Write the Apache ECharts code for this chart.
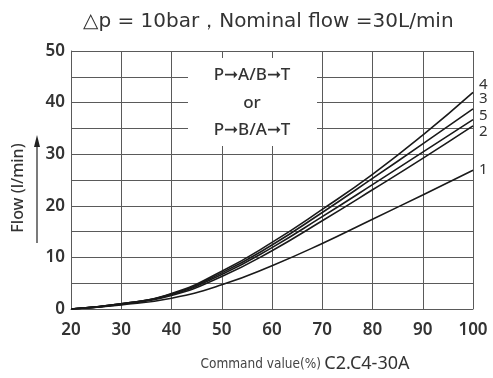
<!DOCTYPE html>
<html>
<head>
<meta charset="utf-8">
<script src="https://cdn.jsdelivr.net/npm/echarts@6/dist/echarts.min.js"></script>
<style>
  html, body { margin: 0; padding: 0; background: #fff; }
  #chart { width: 493px; height: 378px; }
</style>
</head>
<body>
<div id="chart"></div>
<script>
const commandValues = [20, 30, 40, 50, 60, 70, 80, 90, 100];
const curveNames = ['4', '3', '5', '2', '1'];
const curve4 = [0, 1.0, 3.0, 7.3, 12.9, 19.3, 26.1, 33.7, 42.0];
const curve3 = [0, 1.0, 2.9, 7.0, 12.4, 18.7, 25.3, 32.0, 38.8];
const curve5 = [0, 1.0, 2.8, 6.7, 11.9, 17.9, 24.1, 30.4, 36.7];
const curve2 = [0, 0.9, 2.6, 6.3, 11.3, 17.1, 23.1, 29.2, 35.5];
const curve1 = [0, 0.8, 2.1, 4.7, 8.4, 12.7, 17.4, 22.1, 26.9];
const curveValues = [curve4, curve3, curve5, curve2, curve1];
// where each number sits next to the line end
const labelOffsets = [[0, -8], [0, -10], [0, -4], [0, 6], [0, 0]];

const font = '"Noto Sans", "Open Sans", sans-serif';
const ink = '#333';
const gridColor = '#5a5a5a';

const chart = echarts.init(document.getElementById('chart'));

const series = curveNames.map((name, i) => ({
  name,
  type: 'line',
  smooth: 0.5,
  symbol: 'none',
  lineStyle: { color: '#1a1a1a', width: 1.6 },
  data: commandValues.map((x, j) => [x, curveValues[i][j]]),
  endLabel: {
    show: true,
    formatter: name,
    color: ink,
    fontFamily: font,
    fontSize: 15,
    distance: 6,
    offset: labelOffsets[i],
  },
  z: 3,
}));

chart.setOption({
  backgroundColor: '#fff',
  animation: false,
  title: {
    text: '△p = 10bar，Nominal flow =30L/min',
    left: 78,
    top: 7,
    textStyle: { color: ink, fontFamily: '"DejaVu Sans", sans-serif', fontSize: 20, fontWeight: 500 },
  },
  grid: { left: 71, right: 20, top: 51, bottom: 68 },
  xAxis: {
    type: 'value',
    min: 20,
    max: 100,
    interval: 10,
    name: '{a|Command value(%)} {b|C2.C4-30A}',
    nameLocation: 'middle',
    nameGap: 46,
    nameTextStyle: {
      rich: {
        a: { fontFamily: '"DejaVu Sans Condensed", "Liberation Sans Narrow", sans-serif', fontSize: 13.5, color: '#444', padding: [0, 0, 0, 66] },
        b: { fontFamily: font, fontSize: 18, color: ink },
      },
    },
    axisLine: { show: true, lineStyle: { color: gridColor, width: 1 } },
    axisTick: { show: false },
    axisLabel: { color: ink, fontFamily: font, fontSize: 17, fontWeight: 600, margin: 13 },
    splitLine: { show: true, lineStyle: { color: gridColor, width: 1 } },
  },
  yAxis: {
    type: 'value',
    min: 0,
    max: 50,
    interval: 5,
    axisLine: { show: true, lineStyle: { color: gridColor, width: 1 } },
    axisTick: { show: false },
    axisLabel: {
      color: ink,
      fontFamily: font,
      fontSize: 17,
      fontWeight: 600,
      margin: 6,
      formatter: (v) => (v % 10 === 0 ? String(v) : ''),
    },
    splitLine: { show: true, lineStyle: { color: gridColor, width: 1 } },
  },
  graphic: [
    {
      type: 'rect',
      shape: { x: 188, y: 58, width: 129, height: 88 },
      style: { fill: '#fff' },
      z: 10,
    },
    {
      type: 'text',
      x: 252, y: 75,
      style: { text: 'P➞A/B➞T', fill: ink, font: `500 17px ${font}`, align: 'center', verticalAlign: 'middle' },
      z: 11,
    },
    {
      type: 'text',
      x: 252, y: 103,
      style: { text: 'or', fill: ink, font: `500 17px ${font}`, align: 'center', verticalAlign: 'middle' },
      z: 11,
    },
    {
      type: 'text',
      x: 252, y: 130,
      style: { text: 'P➞B/A➞T', fill: ink, font: `500 17px ${font}`, align: 'center', verticalAlign: 'middle' },
      z: 11,
    },
    {
      type: 'text',
      x: 18, y: 188,
      rotation: Math.PI / 2,
      style: { text: 'Flow (l/min)', fill: ink, font: `500 16px ${font}`, align: 'center', verticalAlign: 'middle' },
    },
    {
      type: 'line',
      shape: { x1: 37, y1: 243, x2: 37, y2: 145 },
      style: { stroke: '#222', lineWidth: 1.2 },
    },
    {
      type: 'polygon',
      shape: { points: [[37, 135], [34, 147], [40, 147]] },
      style: { fill: '#222' },
    },
  ],
  series,
});
</script>
</body>
</html>
